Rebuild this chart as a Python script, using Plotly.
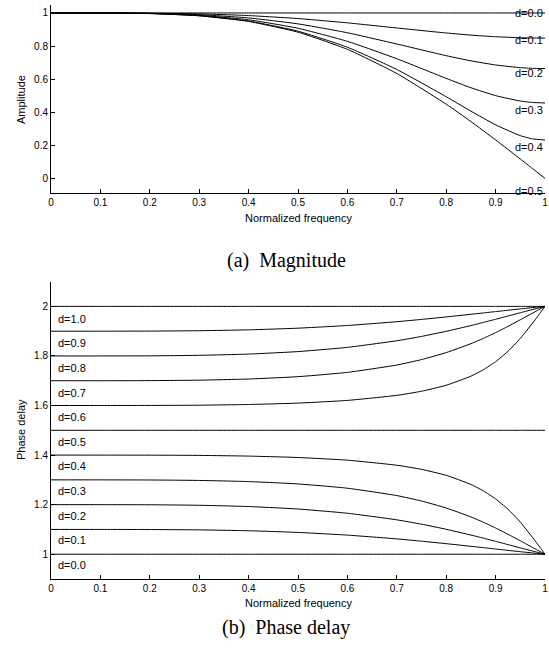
import plotly.graph_objects as go

# ---------------- data ----------------
mag_x = [0, 0.1, 0.2, 0.3, 0.4, 0.5, 0.6, 0.7, 0.8, 0.85, 0.9, 0.95, 0.975, 1.0]
mag_d00 = [1.0, 1.0, 1.0, 1.0, 1.0, 1.0, 1.0, 1.0, 1.0, 1.0, 1.0, 1.0, 1.0, 1.0]
mag_d01 = [1.0, 0.9999, 0.9989, 0.9945, 0.9843, 0.9662, 0.9403, 0.9093, 0.8790, 0.8662, 0.8564, 0.8502, 0.8486, 0.848]
mag_d02 = [1.0, 0.9999, 0.9979, 0.9897, 0.9700, 0.9341, 0.8804, 0.8126, 0.7418, 0.7106, 0.6857, 0.6696, 0.6654, 0.664]
mag_d03 = [1.0, 0.9998, 0.9971, 0.9860, 0.9587, 0.9076, 0.8285, 0.7234, 0.6046, 0.5481, 0.5003, 0.4677, 0.4590, 0.456]
mag_d04 = [1.0, 0.9998, 0.9966, 0.9836, 0.9513, 0.8900, 0.7929, 0.6584, 0.4938, 0.4066, 0.3239, 0.2585, 0.2389, 0.232]
mag_d05 = [1.0, 0.9998, 0.9965, 0.9828, 0.9488, 0.8839, 0.7801, 0.6342, 0.4488, 0.3438, 0.2327, 0.1175, 0.0589, 0.0]
mag_labels = ["d=0.0", "d=0.1", "d=0.2", "d=0.3", "d=0.4", "d=0.5"]

ph_x = [0, 0.1, 0.2, 0.3, 0.4, 0.5, 0.6, 0.7, 0.75, 0.8, 0.85, 0.875, 0.9, 0.925, 0.95, 0.98, 0.99, 1.0]
ph_d00 = [1.0] * 18
ph_d01 = [1.1, 1.1000, 1.0997, 1.0982, 1.0947, 1.0879, 1.0771, 1.0618, 1.0526, 1.0426, 1.0319, 1.0265, 1.0210, 1.0156, 1.0102, 1.0040, 1.0020, 1.0]
ph_d02 = [1.2, 1.2000, 1.1995, 1.1975, 1.1924, 1.1824, 1.1653, 1.1387, 1.1212, 1.1006, 1.0774, 1.0649, 1.0520, 1.0388, 1.0256, 1.0101, 1.0050, 1.0]
ph_d03 = [1.3, 1.3000, 1.2995, 1.2977, 1.2931, 1.2836, 1.2663, 1.2366, 1.2147, 1.1865, 1.1505, 1.1292, 1.1059, 1.0807, 1.0541, 1.0215, 1.0107, 1.0]
ph_d04 = [1.4, 1.3999, 1.3997, 1.3987, 1.3959, 1.3902, 1.3794, 1.3590, 1.3424, 1.3183, 1.2816, 1.2559, 1.2232, 1.1816, 1.1294, 1.0541, 1.0271, 1.0]
ph_d05 = [1.5] * 18
ph_d06 = [1.6, 1.6001, 1.6003, 1.6013, 1.6041, 1.6098, 1.6206, 1.6410, 1.6576, 1.6817, 1.7184, 1.7441, 1.7768, 1.8184, 1.8706, 1.9459, 1.9729, 2.0]
ph_d07 = [1.7, 1.7000, 1.7005, 1.7023, 1.7069, 1.7164, 1.7337, 1.7634, 1.7853, 1.8135, 1.8495, 1.8708, 1.8941, 1.9193, 1.9459, 1.9785, 1.9893, 2.0]
ph_d08 = [1.8, 1.8000, 1.8005, 1.8025, 1.8076, 1.8176, 1.8347, 1.8613, 1.8788, 1.8994, 1.9226, 1.9351, 1.9480, 1.9612, 1.9744, 1.9899, 1.9950, 2.0]
ph_d09 = [1.9, 1.9000, 1.9003, 1.9018, 1.9053, 1.9121, 1.9229, 1.9382, 1.9474, 1.9574, 1.9681, 1.9735, 1.9790, 1.9844, 1.9898, 1.9960, 1.9980, 2.0]
ph_d10 = [2.0] * 18
ph_labels = ["d=0.0", "d=0.1", "d=0.2", "d=0.3", "d=0.4", "d=0.5",
             "d=0.6", "d=0.7", "d=0.8", "d=0.9", "d=1.0"]

x_ticks = [0, 0.1, 0.2, 0.3, 0.4, 0.5, 0.6, 0.7, 0.8, 0.9, 1]
x_ticktext = ["0", "0.1", "0.2", "0.3", "0.4", "0.5", "0.6", "0.7", "0.8", "0.9", "1"]
mag_yticks = [0, 0.2, 0.4, 0.6, 0.8, 1]
mag_yticktext = ["0", "0.2", "0.4", "0.6", "0.8", "1"]
ph_yticks = [1, 1.2, 1.4, 1.6, 1.8, 2]
ph_yticktext = ["1", "1.2", "1.4", "1.6", "1.8", "2"]

# ---------------- figure ----------------
SANS = "Liberation Sans, Arial, Helvetica, sans-serif"
SERIF = "Liberation Serif, Times New Roman, serif"
line = dict(color="black", width=1, shape="spline", smoothing=0.5)

fig = go.Figure()
for ys in [mag_d00, mag_d01, mag_d02, mag_d03, mag_d04, mag_d05]:
    fig.add_trace(go.Scatter(x=mag_x, y=ys, mode="lines", line=line, cliponaxis=False,
                             xaxis="x", yaxis="y", showlegend=False, hoverinfo="skip"))
for ys in [ph_d00, ph_d01, ph_d02, ph_d03, ph_d04, ph_d05,
           ph_d06, ph_d07, ph_d08, ph_d09, ph_d10]:
    fig.add_trace(go.Scatter(x=ph_x, y=ys, mode="lines", line=line, cliponaxis=False,
                             xaxis="x2", yaxis="y2", showlegend=False, hoverinfo="skip"))

W, H = 549.0, 648.0
L, R = 51, 4
def frac(px):
    return 1 - px / H
def xfrac(px):
    return (px - L) / (W - L - R)

axis_common = dict(showline=True, linecolor="black", linewidth=1, showgrid=False,
                   zeroline=False, ticks="inside", ticklen=4, tickcolor="black",
                   tickwidth=1, tickfont=dict(family=SANS, size=10, color="black"),
                   mirror=False, automargin=False)

fig.update_layout(
    width=W, height=H,
    margin=dict(l=L, r=R, t=0, b=0, autoexpand=False),
    plot_bgcolor="white", paper_bgcolor="white",
    xaxis=dict(domain=[0, 1], range=[0, 1], anchor="y",
               tickvals=x_ticks, ticktext=x_ticktext, **axis_common),
    yaxis=dict(domain=[frac(193.3), frac(4.7)], range=[-0.09, 1.05], anchor="x",
               tickvals=mag_yticks, ticktext=mag_yticktext, **axis_common),
    xaxis2=dict(domain=[0, 1], range=[0, 1], anchor="y2",
                tickvals=x_ticks, ticktext=x_ticktext, **axis_common),
    yaxis2=dict(domain=[frac(579), frac(281.6)], range=[0.9, 2.1], anchor="x2",
                tickvals=ph_yticks, ticktext=ph_yticktext, **axis_common),
)

ann = []
# magnitude curve labels
mag_label_y = [1.0, 0.835, 0.637, 0.416, 0.188, -0.079]
for t, yv in zip(mag_labels, mag_label_y):
    ann.append(dict(x=0.935, y=yv, xref="x", yref="y", text=t, showarrow=False,
                    xanchor="left", yanchor="middle",
                    font=dict(family=SANS, size=11, color="black")))
# phase delay curve labels
for i, t in enumerate(ph_labels):
    ann.append(dict(x=0.01, y=0.957 + i * 0.0993, xref="x2", yref="y2", text=t,
                    showarrow=False, xanchor="left", yanchor="middle",
                    font=dict(family=SANS, size=11, color="black")))
# axis titles
ann.append(dict(x=xfrac(21), y=frac(100), xref="paper", yref="paper", text="Amplitude",
                showarrow=False, textangle=-90, xanchor="center", yanchor="middle",
                font=dict(family=SANS, size=11, color="black")))
ann.append(dict(x=xfrac(21), y=frac(430), xref="paper", yref="paper", text="Phase delay",
                showarrow=False, textangle=-90, xanchor="center", yanchor="middle",
                font=dict(family=SANS, size=11, color="black")))
for ypx in [217.7, 603.3]:
    ann.append(dict(x=0.5, y=frac(ypx), xref="paper", yref="paper",
                    text="Normalized frequency", showarrow=False,
                    xanchor="center", yanchor="middle",
                    font=dict(family=SANS, size=11, color="black")))
# captions
for txt, ypx in [("(a)&nbsp;&nbsp;Magnitude", 260), ("(b)&nbsp;&nbsp;Phase delay", 627)]:
    ann.append(dict(x=xfrac(286), y=frac(ypx), xref="paper", yref="paper", text=txt,
                    showarrow=False, xanchor="center", yanchor="middle",
                    font=dict(family=SERIF, size=20, color="black")))
fig.update_layout(annotations=ann)

fig.write_html("out.html",
               config={"displayModeBar": False},
               post_script="document.body.style.margin='0';document.body.style.padding='0';"
                           "document.body.style.overflow='hidden';")
